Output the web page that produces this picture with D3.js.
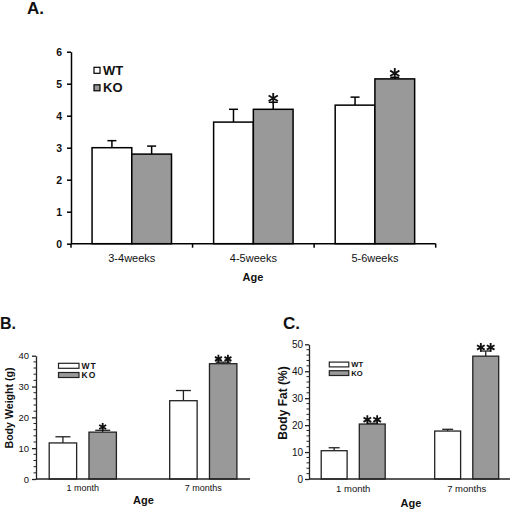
<!DOCTYPE html>
<html><head><meta charset="utf-8">
<script src="https://cdn.jsdelivr.net/npm/d3@7"></script>
<style>body{margin:0;background:#fff}svg{display:block}text{font-family:Arial,"Liberation Sans",sans-serif}</style>
</head><body>
<svg id="c" width="512" height="509"></svg>
<script>
// ---- data ----
const seriesNames = ["WT", "KO"];
const catsA = ["3-4weeks", "4-5weeks", "5-6weeks"];
const wtA = [3.0, 3.8, 4.33];
const wtErrA = [0.22, 0.4, 0.25];
const koA = [2.8, 4.2, 5.15];
const koErrA = [0.25, 0.22, 0.05];
const sigA = ["", "*", "*"];
const ticksA = [0, 1, 2, 3, 4, 5, 6];

const catsB = ["1 month", "7 months"];
const wtB = [11.7, 25.4];
const wtErrB = [2.0, 3.3];
const koB = [15.2, 37.4];
const koErrB = [0.6, 0.5];
const sigB = ["*", "**"];
const ticksB = [0, 10, 20, 30, 40];

const catsC = ["1 month", "7 months"];
const wtC = [10.5, 17.8];
const wtErrC = [1.1, 0.65];
const koC = [20.4, 45.6];
const koErrC = [0.3, 1.9];
const sigC = ["**", "**"];
const ticksC = [0, 10, 20, 30, 40, 50];

const svg = d3.select("#c");
const GRAY = "#999999";

function panel(o) {
  const g = svg.append("g");
  const x = d3.scaleBand().domain(o.cats).range(o.xr).paddingInner(0).paddingOuter(0);
  const xi = d3.scaleBand().domain(seriesNames).range([0, x.bandwidth()])
    .paddingInner(o.pi).paddingOuter(o.po);
  const y = d3.scaleLinear().domain([0, o.ymax]).range(o.yr);
  const rows = [];
  o.cats.forEach((c, i) => {
    rows.push({c, s: "WT", v: o.wt[i], e: o.wtErr[i], sig: ""});
    rows.push({c, s: "KO", v: o.ko[i], e: o.koErr[i], sig: o.sig[i]});
  });
  // error bars (upward only)
  const eb = g.append("g").attr("stroke", o.stroke).attr("stroke-width", o.sw).attr("fill", "none");
  rows.forEach(r => {
    const cx = x(r.c) + xi(r.s) + xi.bandwidth() / 2;
    eb.append("line").attr("x1", cx).attr("x2", cx).attr("y1", y(r.v)).attr("y2", y(r.v + r.e));
    eb.append("line").attr("x1", cx - o.cap / 2).attr("x2", cx + o.cap / 2)
      .attr("y1", y(r.v + r.e)).attr("y2", y(r.v + r.e));
  });
  // bars
  g.append("g").selectAll("rect").data(rows).join("rect")
    .attr("x", d => x(d.c) + xi(d.s))
    .attr("y", d => y(d.v))
    .attr("width", xi.bandwidth())
    .attr("height", d => y(0) - y(d.v))
    .attr("fill", d => d.s === "WT" ? "#fff" : GRAY)
    .attr("stroke", o.stroke).attr("stroke-width", o.sw);
  // asterisks
  const ast = d3.symbol().type(d3.symbolAsterisk).size(o.astSize);
  rows.forEach(r => {
    const n = r.sig.length;
    if (!n) return;
    const cx = x(r.c) + xi(r.s) + xi.bandwidth() / 2;
    const cy = y(r.v + r.e) - o.astDy;
    for (let k = 0; k < n; k++) {
      const dx = (k - (n - 1) / 2) * o.astGap;
      g.append("path").attr("d", ast).attr("transform", `translate(${cx + dx},${cy})`)
        .attr("fill", "none").attr("stroke", "#111").attr("stroke-width", o.astW);
    }
  });
  // y axis
  const ya = g.append("g").attr("transform", `translate(${o.xr0},0)`)
    .call(d3.axisLeft(y).tickValues(o.ticks).tickFormat(d3.format("d"))
      .tickSize(o.tickLen).tickPadding(o.tickPad).tickSizeOuter(0));
  ya.select(".domain").attr("stroke", o.stroke).attr("stroke-width", o.sw);
  ya.selectAll(".tick line").attr("stroke", o.stroke).attr("stroke-width", o.sw);
  ya.selectAll(".tick text").attr("font-size", o.tickFs).attr("font-weight", o.tickBold ? "bold" : "normal")
    .attr("fill", "#111").style("font-family", "Arial, 'Liberation Sans', sans-serif");
  if (o.minor) {
    const mt = d3.range(0, o.ymax + 0.001, o.minor).filter(v => !o.ticks.includes(v));
    g.append("g").selectAll("line").data(mt).join("line")
      .attr("x1", o.xr0 - 2.5).attr("x2", o.xr0).attr("y1", d => y(d)).attr("y2", d => y(d))
      .attr("stroke", o.stroke).attr("stroke-width", 1);
  }
  // x axis
  g.append("line").attr("x1", o.xr0).attr("x2", o.xr1).attr("y1", y(0)).attr("y2", y(0))
    .attr("stroke", o.stroke).attr("stroke-width", o.sw);
  if (o.xTicks) {
    const bounds = o.cats.map(c => x(c)).concat([x(o.cats[o.cats.length - 1]) + x.bandwidth()]);
    g.append("g").selectAll("line").data(bounds).join("line")
      .attr("x1", d => d).attr("x2", d => d).attr("y1", y(0)).attr("y2", y(0) + 4)
      .attr("stroke", o.stroke).attr("stroke-width", o.sw);
  }
  const xa = g.append("g").attr("transform", `translate(0,${y(0)})`)
    .call(d3.axisBottom(x).tickSize(0).tickPadding(o.xPad));
  xa.select(".domain").remove();
  xa.selectAll(".tick text").attr("font-size", o.xFs).attr("fill", "#111")
    .style("font-family", "Arial, 'Liberation Sans', sans-serif");
  // x title
  g.append("text").attr("x", o.ageX).attr("y", o.ageY).attr("text-anchor", "middle")
    .attr("font-size", o.ageFs).attr("font-weight", "bold").attr("fill", "#111").text("Age");
  // y title
  if (o.yTitle) {
    g.append("text").attr("transform", `translate(${o.yTitleX},${o.yTitleY}) rotate(-90)`)
      .attr("text-anchor", "middle").attr("font-size", o.yTitleFs).attr("font-weight", "bold")
      .attr("fill", "#111").text(o.yTitle);
  }
  // panel letter
  g.append("text").attr("x", o.letterX).attr("y", o.letterY).attr("font-size", o.letterFs)
    .attr("font-weight", "bold").attr("fill", "#111").text(o.letter);
  // legend
  seriesNames.forEach((s, i) => {
    const ly = o.legY + i * o.legDy;
    g.append("rect").attr("x", o.legX).attr("y", ly - o.legH / 2).attr("width", o.legW).attr("height", o.legH)
      .attr("fill", s === "WT" ? "#fff" : GRAY).attr("stroke", o.stroke).attr("stroke-width", 1.2);
    g.append("text").attr("x", o.legX + o.legW + o.legGap).attr("y", ly).attr("dy", "0.35em")
      .attr("font-size", o.legFs).attr("font-weight", "bold").attr("letter-spacing", o.legLs)
      .attr("fill", "#111").text(s);
  });
}

panel({
  cats: catsA, wt: wtA, wtErr: wtErrA, ko: koA, koErr: koErrA, sig: sigA, ticks: ticksA, ymax: 6,
  xr: [71, 435.7], xr0: 71, xr1: 435.7, yr: [243.7, 51.7], pi: 0, po: 0.53,
  stroke: "#000", sw: 1.5, cap: 9, astSize: 80, astDy: 4, astGap: 10, astW: 1.8,
  tickLen: 4, tickPad: 5, tickFs: 10.5, tickBold: true, minor: 0, xTicks: true,
  xPad: 11, xFs: 11, ageX: 253, ageY: 281, ageFs: 11,
  yTitle: "", letter: "A.", letterX: 27, letterY: 14, letterFs: 17,
  legX: 94, legY: 70.3, legDy: 17.5, legW: 6, legH: 6, legGap: 3, legFs: 13, legLs: 0
});

panel({
  cats: catsB, wt: wtB, wtErr: wtErrB, ko: koB, koErr: koErrB, sig: sigB, ticks: ticksB, ymax: 40,
  xr: [22.55, 263.55], xr0: 36, xr1: 250, yr: [479, 355.7], pi: 0.31, po: 0.67,
  stroke: "#222", sw: 1.3, cap: 15, astSize: 45, astDy: 3.3, astGap: 9.5, astW: 1.8,
  tickLen: 4, tickPad: 3, tickFs: 9.5, tickBold: false, minor: 2, xTicks: false,
  xPad: 6, xFs: 9, ageX: 143.5, ageY: 504, ageFs: 11,
  yTitle: "Body Weight (g)", yTitleX: 12.5, yTitleY: 408, yTitleFs: 10.6,
  letter: "B.", letterX: 0, letterY: 328.5, letterFs: 16,
  legX: 58.5, legY: 365.8, legDy: 9.2, legW: 20.5, legH: 5, legGap: 2.5, legFs: 8.5, legLs: 1
});

panel({
  cats: catsC, wt: wtC, wtErr: wtErrC, ko: koC, koErr: koErrC, sig: sigC, ticks: ticksC, ymax: 50,
  xr: [296.45, 523.45], xr0: 309, xr1: 510, yr: [479, 344.3], pi: 0.32, po: 0.65,
  stroke: "#222", sw: 1.3, cap: 11, astSize: 55, astDy: 3.6, astGap: 9.8, astW: 1.8,
  tickLen: 4, tickPad: 2, tickFs: 10, tickBold: false, minor: 2, xTicks: false,
  xPad: 6, xFs: 9.5, ageX: 411, ageY: 507, ageFs: 11,
  yTitle: "Body Fat (%)", yTitleX: 287, yTitleY: 403, yTitleFs: 12,
  letter: "C.", letterX: 283, letterY: 328.5, letterFs: 17,
  legX: 329.3, legY: 364.5, legDy: 8.6, legW: 19.5, legH: 4.8, legGap: 2.5, legFs: 7.6, legLs: 0
});
</script>
</body></html>
